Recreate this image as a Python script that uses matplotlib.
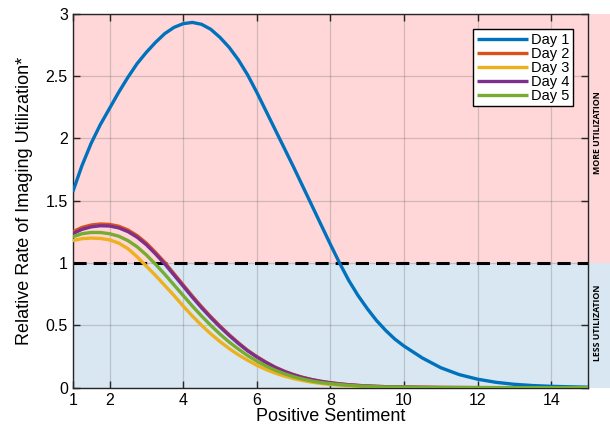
import numpy as np
import matplotlib
matplotlib.use("Agg")
import matplotlib.pyplot as plt
import matplotlib.transforms as mtransforms
from matplotlib.patches import Rectangle

# dados (passo 0.25 ate 10, depois 0.5)
sentimento = [1, 1.25, 1.5, 1.75, 2, 2.25, 2.5, 2.75, 3, 3.25, 3.5, 3.75, 4, 4.25, 4.5, 4.75,
              5, 5.25, 5.5, 5.75, 6, 6.25, 6.5, 6.75, 7, 7.25, 7.5, 7.75, 8, 8.25, 8.5, 8.75,
              9, 9.25, 9.5, 9.75, 10, 10.5, 11, 11.5, 12, 12.5, 13, 13.5, 14, 14.5, 15]

dia1 = [1.57, 1.78, 1.96, 2.11, 2.24, 2.37, 2.49, 2.60, 2.69, 2.77, 2.84, 2.89, 2.92, 2.93, 2.915, 2.875,
        2.81, 2.73, 2.63, 2.51, 2.37, 2.22, 2.07, 1.92, 1.77, 1.615, 1.46, 1.305, 1.15, 1.0, 0.86, 0.74,
        0.635, 0.54, 0.46, 0.39, 0.334, 0.238, 0.16, 0.105, 0.068, 0.043, 0.027, 0.017, 0.011, 0.007, 0.004]
dia2 = [1.25, 1.285, 1.305, 1.313, 1.31, 1.295, 1.265, 1.22, 1.16, 1.085, 1.005, 0.915, 0.825, 0.735, 0.65, 0.57,
        0.495, 0.425, 0.36, 0.30, 0.25, 0.205, 0.165, 0.132, 0.105, 0.083, 0.065, 0.051, 0.04, 0.031, 0.024, 0.018,
        0.014, 0.011, 0.008, 0.006, 0.005, 0.003, 0.0015, 0.001, 0.0005, 0.0003, 0.0002, 0.0001, 0.0001, 0.0, 0.0]
dia3 = [1.18, 1.195, 1.20, 1.197, 1.186, 1.16, 1.115, 1.05, 0.975, 0.90, 0.82, 0.74, 0.655, 0.575, 0.50, 0.432,
        0.37, 0.314, 0.264, 0.22, 0.18, 0.146, 0.117, 0.093, 0.073, 0.057, 0.044, 0.034, 0.026, 0.02, 0.015, 0.011,
        0.008, 0.006, 0.005, 0.004, 0.003, 0.0015, 0.001, 0.0005, 0.0003, 0.0002, 0.0001, 0.0, 0.0, 0.0, 0.0]
dia4 = [1.235, 1.27, 1.29, 1.299, 1.297, 1.282, 1.252, 1.207, 1.147, 1.073, 0.993, 0.904, 0.815, 0.726, 0.641, 0.562,
        0.488, 0.419, 0.355, 0.296, 0.246, 0.202, 0.162, 0.13, 0.103, 0.081, 0.064, 0.05, 0.039, 0.03, 0.023, 0.018,
        0.013, 0.01, 0.008, 0.006, 0.005, 0.003, 0.0015, 0.001, 0.0005, 0.0003, 0.0002, 0.0001, 0.0001, 0.0, 0.0]
dia5 = [1.21, 1.235, 1.245, 1.245, 1.235, 1.215, 1.18, 1.13, 1.065, 0.99, 0.91, 0.825, 0.74, 0.655, 0.575, 0.50,
        0.43, 0.366, 0.31, 0.258, 0.213, 0.174, 0.14, 0.112, 0.088, 0.069, 0.053, 0.041, 0.032, 0.025, 0.019, 0.014,
        0.011, 0.008, 0.006, 0.005, 0.004, 0.002, 0.001, 0.0007, 0.0004, 0.0002, 0.0001, 0.0001, 0.0, 0.0, 0.0]

series = [dia1, dia2, dia3, dia4, dia5]
nomes = ["Day 1", "Day 2", "Day 3", "Day 4", "Day 5"]
cores = ["#0072BD", "#D95319", "#EDB120", "#7E2F8E", "#77AC30"]

xticks = [1, 2, 4, 6, 8, 10, 12, 14]
yticks = [0, 0.5, 1, 1.5, 2, 2.5, 3]
ytick_labels = ["0", "0.5", "1", "1.5", "2", "2.5", "3"]

plt.rcParams['font.family'] = ['Liberation Sans', 'DejaVu Sans']

fig = plt.figure(figsize=(6.1, 4.28), dpi=100)
ax = fig.add_axes([0.1192, 0.0942, 0.8448, 0.8738])

# fundo rosa / azul (passa da borda direita)
trans = mtransforms.blended_transform_factory(ax.transAxes, ax.transData)
ax.add_patch(Rectangle((0, 1), 1.05, 2, transform=trans, facecolor="#FFD7D8",
                       edgecolor="none", clip_on=False, zorder=0))
ax.add_patch(Rectangle((0, 0), 1.05, 1, transform=trans, facecolor="#D8E7F2",
                       edgecolor="none", clip_on=False, zorder=0))

ax.grid(True, color="#555555", alpha=0.25, linewidth=0.9, zorder=1)
ax.set_axisbelow(True)

for s, nome, c in zip(series, nomes, cores):
    ax.plot(sentimento, s, color=c, linewidth=2.4, label=nome, zorder=3,
            solid_capstyle="butt", solid_joinstyle="round")

ax.axhline(1, color="black", linewidth=2.2, linestyle=(0, (4.3, 2.3)), zorder=2)

ax.set_xlim(1, 15)
ax.set_ylim(0, 3)
ax.set_xticks(xticks)
ax.set_yticks(yticks)
ax.set_yticklabels(ytick_labels)
ax.tick_params(direction="in", top=True, right=True, length=5, width=1,
               labelsize=11.5, colors="#262626", labelcolor="black")
for sp in ax.spines.values():
    sp.set_color("#262626")
    sp.set_linewidth(1)

ax.set_xlabel("Positive Sentiment", fontsize=13, labelpad=0)
ax.set_ylabel("Relative Rate of Imaging Utilization*", fontsize=13, labelpad=9)

leg = ax.legend(loc="upper right", bbox_to_anchor=(0.971, 0.959), borderaxespad=0,
                fontsize=10.5, handlelength=3.5, labelspacing=0.0, handletextpad=0.2,
                borderpad=0.25, fancybox=False, framealpha=1, edgecolor="black")
leg.get_frame().set_linewidth(1)

ax.text(1.0185, 2.05, "MORE UTILIZATION", transform=trans, rotation=90,
        ha="center", va="center", fontsize=6.3, fontweight="bold",
        family=["Open Sans", "DejaVu Sans"], clip_on=False)
ax.text(1.0185, 0.52, "LESS UTILIZATION", transform=trans, rotation=90,
        ha="center", va="center", fontsize=6.3, fontweight="bold",
        family=["Open Sans", "DejaVu Sans"], clip_on=False)

fig.savefig("out.png", dpi=100)
